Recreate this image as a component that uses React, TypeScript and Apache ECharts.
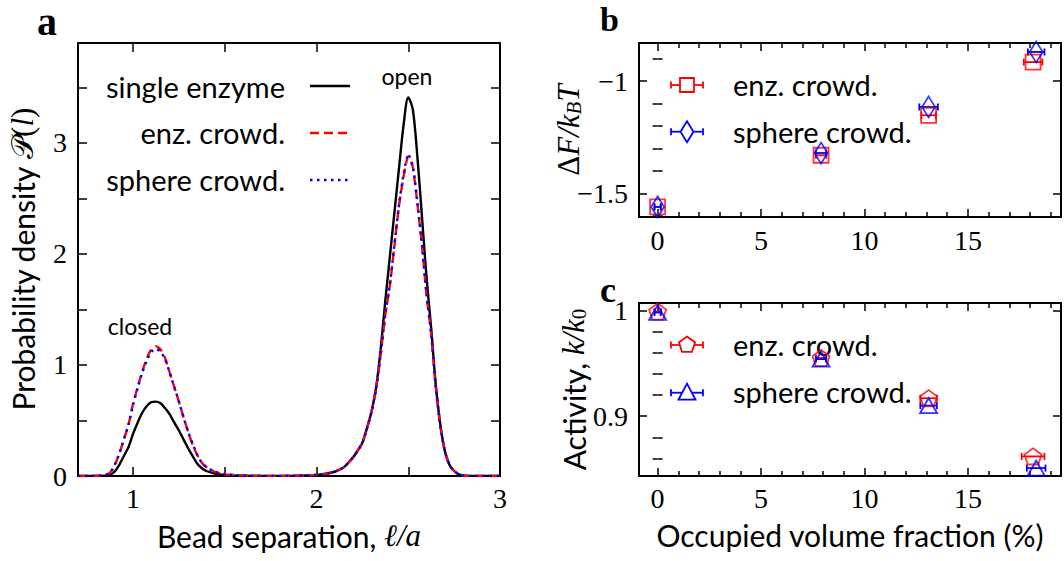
import React, { useEffect, useRef } from "react";
import * as echarts from "echarts";

// ---------- Panel a data ----------
const beadSeparation = [0.70, 0.75, 0.80, 0.85, 0.875, 0.90, 0.925, 0.95, 0.975, 1.00, 1.025, 1.05, 1.075, 1.10, 1.125, 1.15, 1.175, 1.20, 1.225, 1.25, 1.275, 1.30, 1.325, 1.35, 1.375, 1.40, 1.45, 1.50, 1.60, 1.70, 1.80, 1.90, 2.00, 2.05, 2.10, 2.15, 2.20, 2.225, 2.25, 2.275, 2.30, 2.325, 2.35, 2.375, 2.40, 2.425, 2.45, 2.475, 2.50, 2.525, 2.55, 2.575, 2.60, 2.625, 2.65, 2.675, 2.70, 2.725, 2.75, 2.775, 2.80, 2.85, 2.90, 3.00];
const pSingle = [0, 0, 0, 0.003, 0.01, 0.04, 0.10, 0.18, 0.26, 0.38, 0.48, 0.57, 0.63, 0.665, 0.67, 0.655, 0.61, 0.555, 0.48, 0.41, 0.33, 0.25, 0.18, 0.11, 0.07, 0.045, 0.02, 0.008, 0.002, 0.001, 0.001, 0.003, 0.01, 0.02, 0.04, 0.08, 0.17, 0.23, 0.30, 0.43, 0.58, 0.80, 1.15, 1.58, 1.98, 2.38, 2.78, 3.17, 3.41, 3.30, 2.87, 2.33, 1.78, 1.33, 0.82, 0.46, 0.22, 0.10, 0.045, 0.015, 0.005, 0, 0, 0];
const pEnzCrowd = [0, 0, 0.002, 0.01, 0.03, 0.10, 0.20, 0.33, 0.46, 0.65, 0.80, 0.94, 1.06, 1.14, 1.17, 1.14, 1.06, 0.93, 0.80, 0.67, 0.53, 0.40, 0.28, 0.19, 0.12, 0.08, 0.035, 0.015, 0.004, 0.001, 0.001, 0.003, 0.01, 0.02, 0.04, 0.08, 0.17, 0.23, 0.30, 0.43, 0.58, 0.79, 1.10, 1.45, 1.72, 2.08, 2.44, 2.70, 2.88, 2.78, 2.45, 2.07, 1.62, 1.28, 0.80, 0.45, 0.22, 0.10, 0.045, 0.015, 0.005, 0, 0, 0];
const pSphereCrowd = [0, 0, 0.002, 0.01, 0.03, 0.10, 0.20, 0.33, 0.46, 0.64, 0.79, 0.93, 1.04, 1.12, 1.145, 1.12, 1.05, 0.93, 0.80, 0.67, 0.53, 0.40, 0.29, 0.19, 0.12, 0.08, 0.035, 0.015, 0.004, 0.001, 0.001, 0.003, 0.01, 0.02, 0.04, 0.08, 0.17, 0.23, 0.30, 0.43, 0.58, 0.79, 1.10, 1.46, 1.73, 2.09, 2.45, 2.72, 2.90, 2.79, 2.46, 2.08, 1.63, 1.28, 0.80, 0.45, 0.22, 0.10, 0.045, 0.015, 0.005, 0, 0, 0];

// ---------- Panels b, c data ----------
const enzVolFrac = [0, 7.9, 13.1, 18.15];
const sphereVolFrac = [0, 7.9, 13.1, 18.3];
const dFEnz = [-1.56, -1.33, -1.152, -0.915];
const dFSphere = [-1.56, -1.32, -1.115, -0.87];
const dFEnzXErr = [0.15, 0.25, 0.35, 0.45];
const dFSphereXErr = [0.15, 0.25, 0.45, 0.4];
const actEnz = [0.999, 0.955, 0.917, 0.862];
const actSphere = [0.998, 0.954, 0.910, 0.851];
const actEnzXErr = [0.15, 0.25, 0.4, 0.55];
const actSphereXErr = [0.15, 0.25, 0.4, 0.45];

// ---------- Ticks ----------
const aXTicks = [1, 1.5, 2, 2.5, 3];
const aXLabels = [1, 2, 3];
const aYTicks = [0, 0.5, 1, 1.5, 2, 2.5, 3, 3.5];
const aYLabels = [0, 1, 2, 3];
const fracMajor = [0, 5, 10, 15];
const fracMinor = [1, 2, 3, 4, 6, 7, 8, 9, 11, 12, 13, 14, 16, 17, 18, 19];
const bYMajor = [-1.5, -1];
const bYMinor = [-1.6, -1.4, -1.3, -1.2, -1.1, -0.9];
const cYMajor = [0.9, 1];
const cYMinor = [0.86, 0.88, 0.92, 0.94, 0.96, 0.98];

// axis ranges
const aX = [0.7, 3.0];
const aY = [0, 3.9];
const fracX = [-0.9, 19.5];
const bY = [-1.605, -0.83];
const cY = [0.8435, 1.007];

const SANS = 'Lato, "DejaVu Sans", sans-serif';
const SERIF = '"Liberation Serif", "DejaVu Serif", serif';

const fmtNum = (v: number) => (v < 0 ? "\u2212" + String(-v) : String(v));

function axisGroup(kind: "x" | "y", grid: number, range: number[], major: number[], minor: number[], majorLen: number, minorLen: number, extra: any) {
  const base: any = { type: "value", gridIndex: grid, min: range[0], max: range[1], splitLine: { show: false }, axisLabel: { show: false } };
  const pos = kind === "x" ? ["bottom", "top"] : ["left", "right"];
  const line = { show: true, onZero: false, lineStyle: { color: "#000", width: 2 } };
  const tick = (vals: number[], len: number) => ({ show: true, inside: true, length: len, customValues: vals, lineStyle: { color: "#000", width: 1.5 } });
  const out: any[] = [
    { ...base, ...extra, position: pos[0], axisLine: line, axisTick: tick(major, majorLen) },
    { ...base, position: pos[1], axisLine: line, axisTick: tick(major, majorLen) },
  ];
  if (minor.length) {
    out.push({ ...base, position: pos[0], axisLine: { show: false }, axisTick: tick(minor, minorLen) });
    out.push({ ...base, position: pos[1], axisLine: { show: false }, axisTick: tick(minor, minorLen) });
  }
  return out;
}

// tick labels placed through the axes' scales
function tickLabels(kind: "x" | "y", values: number[], other: number, xi: number, yi: number, offset: number) {
  return {
    type: "custom",
    xAxisIndex: xi,
    yAxisIndex: yi,
    silent: true,
    clip: false,
    z: 10,
    data: values.map((v) => (kind === "x" ? [v, other] : [other, v])),
    renderItem: (_p: any, api: any) => {
      const p = api.coord([api.value(0), api.value(1)]);
      const v = kind === "x" ? api.value(0) : api.value(1);
      return {
        type: "text",
        x: kind === "x" ? p[0] : p[0] - offset,
        y: kind === "x" ? p[1] + offset : p[1],
        style: { text: fmtNum(v), font: "28px " + SERIF, fill: "#000", textAlign: kind === "x" ? "center" : "right", textVerticalAlign: "middle" },
      };
    },
  };
}

const richMath = {
  n: { fontFamily: SANS, fontSize: 30, color: "#000" },
  u: { fontFamily: SERIF, fontSize: 31, color: "#000" },
  i: { fontFamily: SERIF, fontSize: 31, fontStyle: "italic", color: "#000" },
  s: { fontFamily: SERIF, fontSize: 21, fontStyle: "italic", color: "#000", verticalAlign: "bottom", padding: [10, 0, 0, 0] },
  s0: { fontFamily: SERIF, fontSize: 21, color: "#000", verticalAlign: "bottom", padding: [10, 0, 0, 0] },
};

function errorBars(xs: number[], ys: number[], errs: number[], color: string, xi: number, yi: number) {
  return {
    type: "custom",
    xAxisIndex: xi,
    yAxisIndex: yi,
    silent: true,
    z: 3,
    data: xs.map((x, i) => [x, ys[i], errs[i]]),
    renderItem: (_p: any, api: any) => {
      const x = api.value(0), y = api.value(1), e = api.value(2);
      const a = api.coord([x - e, y]);
      const b = api.coord([x + e, y]);
      const style = { stroke: color, lineWidth: 1.8 };
      return {
        type: "group",
        children: [
          { type: "line", shape: { x1: a[0], y1: a[1], x2: b[0], y2: b[1] }, style },
          { type: "line", shape: { x1: a[0], y1: a[1] - 3.5, x2: a[0], y2: a[1] + 3.5 }, style },
          { type: "line", shape: { x1: b[0], y1: b[1] - 3.5, x2: b[0], y2: b[1] + 3.5 }, style },
        ],
      };
    },
  };
}

const PENTAGON = "path://M0,-10 L9.51,-3.09 L5.88,8.09 L-5.88,8.09 L-9.51,-3.09 Z";

function legendMarker(cx: number, cy: number, color: string, shape: string) {
  const st = { stroke: color, lineWidth: 1.8, fill: "none" };
  const bar = [
    { type: "line", shape: { x1: cx - 16, y1: cy, x2: cx + 16, y2: cy }, style: st },
    { type: "line", shape: { x1: cx - 16, y1: cy - 3.5, x2: cx - 16, y2: cy + 3.5 }, style: st },
    { type: "line", shape: { x1: cx + 16, y1: cy - 3.5, x2: cx + 16, y2: cy + 3.5 }, style: st },
  ];
  let m: any;
  if (shape === "square") m = { type: "rect", shape: { x: cx - 7, y: cy - 7, width: 14, height: 14 }, style: { ...st, fill: "#fff" } };
  else if (shape === "diamond") m = { type: "polygon", shape: { points: [[cx, cy - 10.5], [cx + 6.5, cy], [cx, cy + 10.5], [cx - 6.5, cy]] }, style: { ...st, fill: "#fff" } };
  else if (shape === "pentagon") m = { type: "polygon", shape: { points: [[cx, cy - 8.5], [cx + 8.1, cy - 2.6], [cx + 5, cy + 6.9], [cx - 5, cy + 6.9], [cx - 8.1, cy - 2.6]] }, style: { ...st, fill: "#fff" } };
  else m = { type: "polygon", shape: { points: [[cx, cy - 9], [cx + 8.5, cy + 7], [cx - 8.5, cy + 7]] }, style: { ...st, fill: "#fff" } };
  return [...bar, m];
}

function txt(x: number, y: number, text: string, font: string, align = "left") {
  return { type: "text", style: { x, y, text, font, fill: "#000", textAlign: align, textVerticalAlign: "middle" } };
}

export default function App() {
  const ref = useRef<HTMLDivElement>(null);
  useEffect(() => {
    if (!ref.current) return;
    const chart = echarts.init(ref.current, undefined, { renderer: "svg" });

    const xA = axisGroup("x", 0, aX, aXTicks, [], 9, 9, {
      name: "{n|Bead separation, }{i|\u2113/a}", nameLocation: "middle", nameGap: 44, nameMoveOverlap: false, nameTextStyle: { rich: richMath },
    });
    const xB = axisGroup("x", 1, fracX, fracMajor, fracMinor, 8, 5, {});
    const xC = axisGroup("x", 2, fracX, fracMajor, fracMinor, 8, 5, {
      name: "Occupied volume fraction (%)", nameLocation: "middle", nameGap: 44, nameMoveOverlap: false, nameTextStyle: { fontFamily: SANS, fontSize: 30, color: "#000" },
    });
    const yA = axisGroup("y", 0, aY, aYTicks, [], 9, 9, {
      name: "{n|Probability density }{u|\uD835\uDCAB(}{i|l}{u|)}", nameLocation: "middle", nameGap: 40, nameRotate: 90, nameMoveOverlap: false, nameTextStyle: { rich: richMath },
    });
    const yB = axisGroup("y", 1, bY, bYMajor, bYMinor, 8, 5, {
      name: "{u|\u0394}{i|F/k}{s|B}{i|T}", nameLocation: "middle", nameGap: 55, nameRotate: 90, nameMoveOverlap: false, nameTextStyle: { rich: richMath },
    });
    const yC = axisGroup("y", 2, cY, cYMajor, cYMinor, 8, 5, {
      name: "{n|Activity, }{i|k/k}{s0|0}", nameLocation: "middle", nameGap: 50, nameRotate: 90, nameMoveOverlap: false, nameTextStyle: { rich: richMath },
    });
    const xAxes = [...xA, ...xB, ...xC];
    const yAxes = [...yA, ...yB, ...yC];
    const xiA = 0, xiB = xA.length, xiC = xA.length + xB.length;
    const yiA = 0, yiB = yA.length, yiC = yA.length + yB.length;

    const curve = (ys: number[]) => beadSeparation.map((x, i) => [x, ys[i]]);
    const pts = (xs: number[], ys: number[]) => xs.map((x, i) => [x, ys[i]]);
    const hollow = (c: string) => ({ color: "rgba(255,255,255,0)", borderColor: c, borderWidth: 1.8 });

    const option: any = {
      animation: false,
      backgroundColor: "#fff",
      grid: [
        { left: 78, top: 43, width: 422, height: 433 },
        { left: 639, top: 43, width: 422, height: 174 },
        { left: 639, top: 303, width: 422, height: 173 },
      ],
      xAxis: xAxes,
      yAxis: yAxes,
      series: [
        { type: "line", name: "single enzyme", xAxisIndex: xiA, yAxisIndex: yiA, data: curve(pSingle), symbol: "none", smooth: 0.3, lineStyle: { color: "#000", width: 2.4 }, z: 2 },
        { type: "line", name: "enz. crowd.", xAxisIndex: xiA, yAxisIndex: yiA, data: curve(pEnzCrowd), symbol: "none", smooth: 0.2, lineStyle: { color: "#ff0000", width: 2.4, type: [9, 5] }, z: 3 },
        { type: "line", name: "sphere crowd.", xAxisIndex: xiA, yAxisIndex: yiA, data: curve(pSphereCrowd), symbol: "none", smooth: 0.2, lineStyle: { color: "#0000ff", width: 2.4, type: [2.5, 4.5] }, z: 4 },

        errorBars(enzVolFrac, dFEnz, dFEnzXErr, "#ff0000", xiB, yiB),
        { type: "scatter", xAxisIndex: xiB, yAxisIndex: yiB, data: pts(enzVolFrac, dFEnz), symbol: "rect", symbolSize: 15, itemStyle: hollow("#ff0000"), z: 4 },
        errorBars(sphereVolFrac, dFSphere, dFSphereXErr, "#0000ff", xiB, yiB),
        { type: "scatter", xAxisIndex: xiB, yAxisIndex: yiB, data: pts(sphereVolFrac, dFSphere), symbol: "diamond", symbolSize: [13, 21], itemStyle: hollow("#0000ff"), z: 5 },

        errorBars(enzVolFrac, actEnz, actEnzXErr, "#ff0000", xiC, yiC),
        { type: "scatter", xAxisIndex: xiC, yAxisIndex: yiC, data: pts(enzVolFrac, actEnz), symbol: PENTAGON, symbolSize: 17, symbolKeepAspect: true, itemStyle: hollow("#ff0000"), z: 4 },
        errorBars(sphereVolFrac, actSphere, actSphereXErr, "#0000ff", xiC, yiC),
        { type: "scatter", xAxisIndex: xiC, yAxisIndex: yiC, data: pts(sphereVolFrac, actSphere), symbol: "triangle", symbolSize: [17, 15], itemStyle: hollow("#0000ff"), z: 5 },

        tickLabels("x", aXLabels, aY[0], xiA, yiA, 22),
        tickLabels("y", aYLabels, aX[0], xiA, yiA, 11),
        tickLabels("x", fracMajor, bY[0], xiB, yiB, 23),
        tickLabels("y", bYMajor, fracX[0], xiB, yiB, 11),
        tickLabels("x", fracMajor, cY[0], xiC, yiC, 22),
        tickLabels("y", cYMajor, fracX[0], xiC, yiC, 11),
      ],
      graphic: [
        txt(37, 21, "a", "bold 40px " + SERIF),
        txt(600, 19, "b", "bold 34px " + SERIF),
        txt(600, 290, "c", "bold 36px " + SERIF),
        txt(407, 76, "open", "23px " + SANS, "center"),
        txt(140, 326, "closed", "23px " + SANS, "center"),
        // legend a
        txt(285, 86, "single enzyme", "29px " + SANS, "right"),
        txt(285, 132, "enz. crowd.", "29px " + SANS, "right"),
        txt(285, 179, "sphere crowd.", "29px " + SANS, "right"),
        { type: "line", shape: { x1: 310, y1: 86, x2: 350, y2: 86 }, style: { stroke: "#000", lineWidth: 2.4 } },
        { type: "line", shape: { x1: 310, y1: 133, x2: 350, y2: 133 }, style: { stroke: "#ff0000", lineWidth: 2.4, lineDash: [9, 5] } },
        { type: "line", shape: { x1: 310, y1: 180, x2: 350, y2: 180 }, style: { stroke: "#0000ff", lineWidth: 2.4, lineDash: [2.5, 4.5] } },
        // legend b
        ...legendMarker(687, 85, "#ff0000", "square"),
        ...legendMarker(687, 131.7, "#0000ff", "diamond"),
        txt(733, 84, "enz. crowd.", "29px " + SANS),
        txt(733, 131, "sphere crowd.", "29px " + SANS),
        // legend c
        ...legendMarker(687, 345, "#ff0000", "pentagon"),
        ...legendMarker(687, 392.7, "#0000ff", "triangle"),
        txt(733, 344, "enz. crowd.", "29px " + SANS),
        txt(733, 391, "sphere crowd.", "29px " + SANS),
      ],
    };
    chart.setOption(option);
    return () => chart.dispose();
  }, []);
  return <div ref={ref} style={{ position: "absolute", left: 0, top: 0, width: 1064, height: 561 }} />;
}
